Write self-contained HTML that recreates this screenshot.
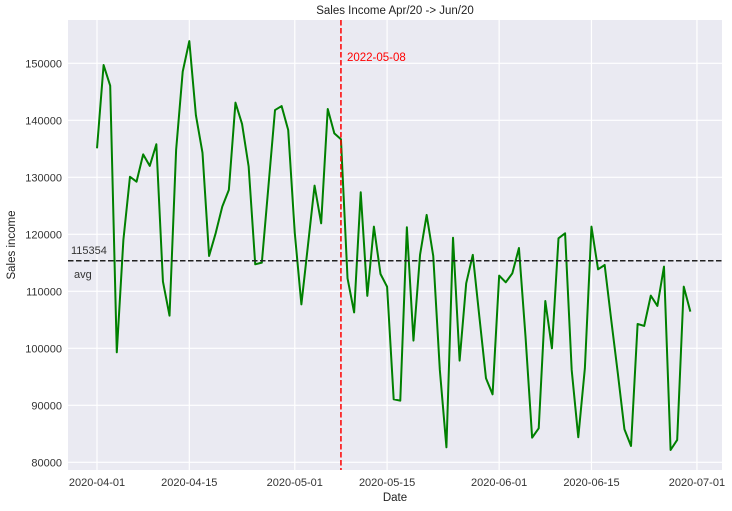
<!DOCTYPE html>
<html><head><meta charset="utf-8"><style>
body{margin:0;background:#fff;}
svg{display:block;font-family:"Liberation Sans",Arial,sans-serif;}
</style></head><body>
<svg id="chart" width="732" height="511" viewBox="0 0 732 511" xmlns="http://www.w3.org/2000/svg"></svg>
<script>
const dayOffsets = [0,14,30,44,61,75,91];
const xTickLabels = ["2020-04-01","2020-04-15","2020-05-01","2020-05-15","2020-06-01","2020-06-15","2020-07-01"];
const yTicks = [80000,90000,100000,110000,120000,130000,140000,150000];
const yTickLabels = ["80000","90000","100000","110000","120000","130000","140000","150000"];
const sales = [135088,149700,146080,99300,119000,130100,129240,134030,132000,135800,
111700,105730,134800,148540,153900,140900,134300,116200,120200,124850,
127800,143100,139360,131900,114740,115030,128400,141800,142500,138300,
120200,107700,118100,128540,121930,141990,137700,136670,112280,106300,
127370,109200,121350,113040,110800,91050,90820,121230,101350,116400,
123400,116200,96200,82630,119400,97840,111400,116400,105500,94740,
91930,112750,111580,113160,117600,102000,84330,85970,108300,100000,
119300,120180,96200,84390,96500,121350,113860,114620,104970,95600,
85790,82870,104270,103920,109240,107430,114330,82160,83920,110820,106430];
const avgValue = 115354;
const markerDay = 37;
const markerLabel = "2022-05-08";

const L=68,R=722,T=20,B=470;
const dMin=-4.4,dMax=94.8,vMin=78650,vMax=157600;
const xs=d=>L+(d-dMin)/(dMax-dMin)*(R-L);
const ys=v=>B-(v-vMin)/(vMax-vMin)*(B-T);
const NS="http://www.w3.org/2000/svg";
const svg=document.getElementById('chart');
function mk(tag,attrs,parent){const e=document.createElementNS(NS,tag);for(const k in attrs)e.setAttribute(k,attrs[k]);(parent||svg).appendChild(e);return e;}

const bg=mk('rect',{x:L,y:T,width:R-L,height:B-T,fill:'#EAEAF2'});



yTicks.forEach((v,i)=>{
  const g=mk('line',{x1:L,x2:R,y1:ys(v),y2:ys(v),stroke:'#fff','stroke-width':1.2});
  
  
  const t=mk('text',{x:L-6,y:ys(v)+4,'text-anchor':'end','font-size':11,fill:'#333'});
  t.textContent=yTickLabels[i];
  
  
});
dayOffsets.forEach((d,i)=>{
  const g=mk('line',{x1:xs(d),x2:xs(d),y1:T,y2:B,stroke:'#fff','stroke-width':1.2});
  
  
  const t=mk('text',{x:xs(d),y:B+16,'text-anchor':'middle','font-size':11,fill:'#333'});
  t.textContent=xTickLabels[i];
  
  
});

const pts=sales.map((v,i)=>xs(i).toFixed(2)+','+ys(v).toFixed(2)).join(' ');
const line=mk('polyline',{points:pts,fill:'none',stroke:'#008000','stroke-width':2,'stroke-linejoin':'round'});



const av=mk('line',{x1:L,x2:R,y1:ys(avgValue),y2:ys(avgValue),stroke:'#222','stroke-width':1.5,'stroke-dasharray':'5.5,2.5'});


const at=mk('text',{x:71,y:ys(avgValue)-7,'font-size':11,fill:'#333'});
at.textContent=String(avgValue);


const at2=mk('text',{x:74,y:ys(avgValue)+17,'font-size':11,fill:'#333'});
at2.textContent='avg';



const vl=mk('line',{x1:xs(markerDay),x2:xs(markerDay),y1:T,y2:B,stroke:'#ff0000','stroke-width':1.5,'stroke-dasharray':'5.5,2.5'});


const vt=mk('text',{x:xs(markerDay)+6,y:61,'font-size':11.5,fill:'#ff0000'});
vt.textContent=markerLabel;



const title=mk('text',{x:(L+R)/2,y:14,'text-anchor':'middle','font-size':11.5,fill:'#222'});
title.textContent='Sales Income Apr/20 -> Jun/20';


const xl=mk('text',{x:(L+R)/2,y:501,'text-anchor':'middle','font-size':11.5,fill:'#222'});
xl.textContent='Date';


const yl=mk('text',{x:15,y:(T+B)/2,'text-anchor':'middle','font-size':11.5,fill:'#222',transform:'rotate(-90 15 '+((T+B)/2)+')'});
yl.textContent='Sales income';


</script>
</body></html>
